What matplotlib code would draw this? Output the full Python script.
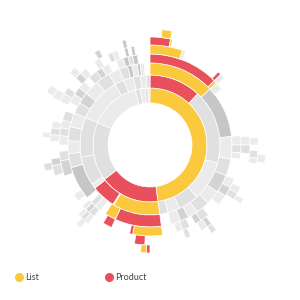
import numpy as np
import matplotlib.pyplot as plt
from matplotlib.lines import Line2D

# ring edges (px radius, 1:1 with the polar r-axis)
radii = [42, 57, 70, 82, 91, 100, 108, 116]

# each ring: node sizes in degrees (clockwise from 12 o'clock) and their category
# L = List, P = Product, g1..g4 = other pages (grey shades), '-' = end of sequence (not drawn)
ring1_size = [172, 61, 60, 52, 5, 5, 3, 2]
ring1_cat = ['L', 'P', 'g2', 'g1', 'g2', 'g1', 'g2', 'g1']

ring2_size = [43, 62, 33, 17, 10, 7, 39, 1, 20, 4, 24, 33, 37, 8, 8, 6, 5, 3]
ring2_cat = ['P', 'g2', 'g1', 'g2', 'g1', 'g2', 'L', '-', 'P', 'g1', 'g2', 'g2',
             'g1', 'g2', 'g1', 'g2', 'g1', 'g2']

ring3_size = [47, 37, 16, 12, 13, 10, 10, 7, 6, 7, 7, 33, 8, 4, 5, 4, 4, 24, 10, 9,
              10, 10, 8, 8, 11, 10, 8, 6, 3, 4, 2, 3, 4]
ring3_cat = ['L', 'g4', 'g1', 'g2', 'g3', 'g1', 'g2', 'g1', 'g3', 'g1', '-', 'P', 'L',
             '-', 'g1', 'g2', '-', 'g4', 'g2', 'g1', 'g2', 'g1', 'g2', 'g3', 'g1', 'g2',
             'g1', 'g2', 'g4', 'g1', 'g4', 'g1', '-']

ring4_size = [45, 2, 5, 32, 6, 5, 4, 13, 6, 6, 7, 9, 6, 4, 4, 5, 4, 9, 19, 2, 12, 6,
              7, 4, 3, 3, 4, 5, 13, 10, 6, 4, 6, 5, 5, 6, 6, 6, 5, 5, 4, 6, 4, 5, 5,
              5, 3, 3, 3, 8]
ring4_cat = ['P', 'L', 'g1', '-', 'g1', 'g2', 'g1', '-', 'g1', 'g3', 'g1', '-', 'g2',
             'g3', '-', 'g2', 'g1', '-', 'L', 'P', '-', 'P', '-', 'g2', 'g3', 'g1', '-',
             'g1', '-', 'g3', 'g2', '-', 'g1', 'g2', 'g1', 'g2', '-', 'g1', 'g3', 'g1',
             '-', 'g2', 'g3', 'g1', '-', 'g1', 'g4', 'g2', 'g4', '-']

ring5_size = [19, 2, 22, 2, 3, 37, 5, 5, 20, 4, 4, 19, 3, 4, 7, 3, 24, 6, 29, 3, 3, 2,
              26, 6, 4, 10, 4, 4, 4, 12, 5, 4, 7, 4, 4, 6, 4, 5, 3, 3, 4, 2, 2, 2, 9]
ring5_cat = ['L', 'g1', '-', 'P', 'g1', '-', 'g1', 'g2', '-', 'g1', 'g2', '-', 'g3',
             'g1', '-', 'g2', '-', 'P', '-', 'g1', 'g2', 'g1', '-', 'g2', 'g3', '-',
             'g1', 'g2', 'g1', '-', 'g1', 'g2', '-', 'g3', 'g1', '-', 'g1', '-', 'g2',
             'g1', '-', 'g4', '-', 'g4', '-']

ring6_size = [11, 1, 74, 4, 3, 4, 3, 20, 3, 19, 3, 35, 2, 3, 35, 3, 33, 4, 14, 3, 19,
              5, 11, 4, 13, 3, 13, 2, 13]
ring6_cat = ['P', 'L', '-', 'g1', '-', 'g2', 'g1', '-', 'g1', '-', 'g2', '-', 'P', 'L',
             '-', 'g1', '-', 'g2', '-', 'g1', '-', 'g1', '-', 'g1', '-', 'g3', '-',
             'g4', '-']

ring7_size = [6, 5, 84, 4, 198, 4, 59]
ring7_cat = ['-', 'L', '-', 'g1', '-', 'g1', '-']

rings = [(ring1_size, ring1_cat), (ring2_size, ring2_cat), (ring3_size, ring3_cat),
         (ring4_size, ring4_cat), (ring5_size, ring5_cat), (ring6_size, ring6_cat),
         (ring7_size, ring7_cat)]

colors = {'L': '#fbc93d', 'P': '#e8505b',
          'g1': '#ebebeb', 'g2': '#e0e0e0', 'g3': '#d3d3d3', 'g4': '#c6c6c6'}

fig = plt.figure(figsize=(3, 3), dpi=100)
ax = fig.add_axes([0.1, 155 / 300 - 0.4, 0.8, 0.8], projection='polar')
ax.set_theta_zero_location('N')
ax.set_theta_direction(-1)

for i, (sizes, cats) in enumerate(rings):
    sizes = np.array(sizes, dtype=float)
    start = np.concatenate([[0], np.cumsum(sizes)[:-1]])
    keep = np.array([c != '-' for c in cats])
    ax.bar(np.deg2rad(start[keep]), radii[i + 1] - radii[i],
           width=np.deg2rad(sizes[keep]), bottom=radii[i], align='edge',
           color=[colors[c] for c in cats if c != '-'],
           edgecolor='white', linewidth=0.5)

ax.set_ylim(0, 120)
ax.set_axis_off()

handles = [Line2D([], [], marker='o', linestyle='', markersize=5.5,
                  markerfacecolor=colors[k], markeredgecolor=colors[k]) for k in ['L', 'P']]
fig.legend(handles, ['List', 'Product'], ncol=2, loc='lower left',
           bbox_to_anchor=(0.022, 0.033), frameon=False, handletextpad=0.1,
           columnspacing=7.35, handlelength=1.0,
           prop={'family': 'Lato', 'size': 6.5}, labelcolor='#444444')

fig.savefig('out.png', dpi=100, facecolor='white')
